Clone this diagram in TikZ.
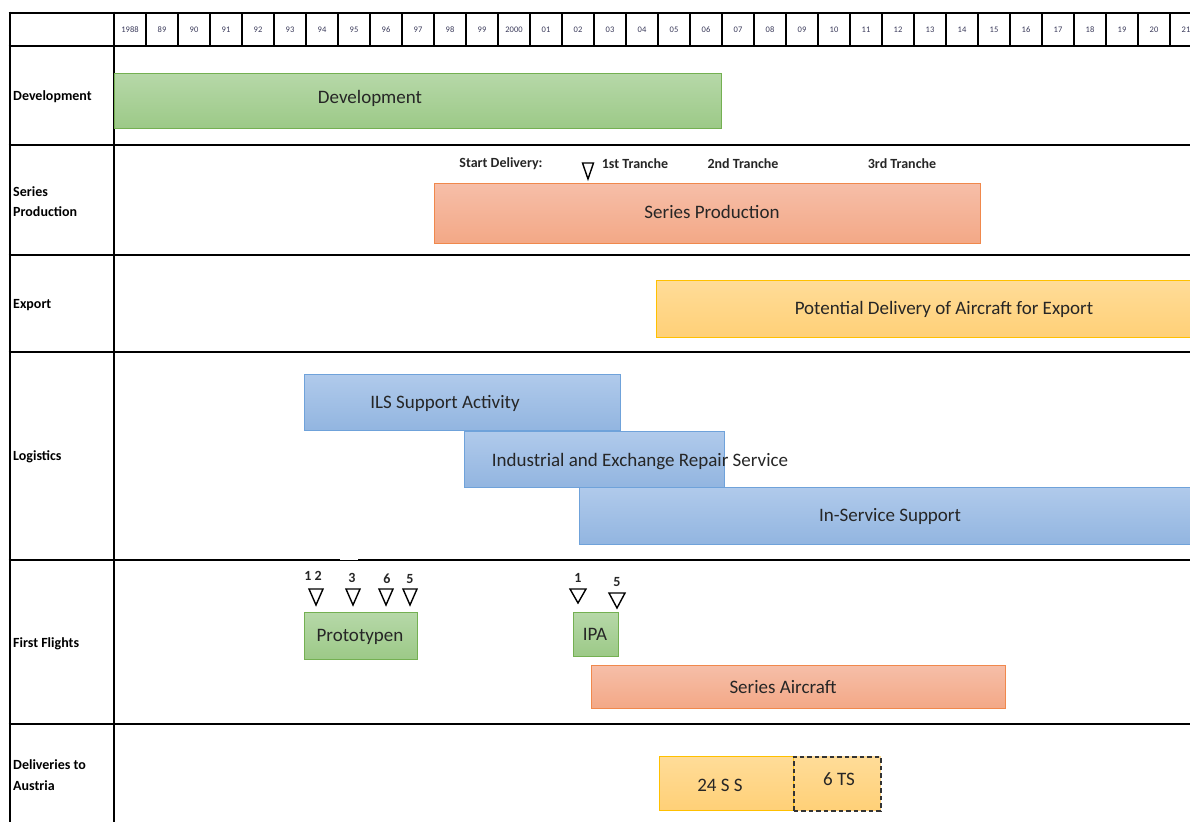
\documentclass[tikz,border=0pt]{standalone}
\usepackage{fontspec}
\setmainfont{Carlito}
\definecolor{txt}{HTML}{262626}
\definecolor{yr}{HTML}{3A3A5A}
\definecolor{grT}{HTML}{B6D8A8}
\definecolor{grB}{HTML}{9CC987}
\definecolor{grD}{HTML}{74B052}
\definecolor{orT}{HTML}{F6BEA8}
\definecolor{orB}{HTML}{F3A886}
\definecolor{orD}{HTML}{F0884C}
\definecolor{ylT}{HTML}{FFDC98}
\definecolor{ylB}{HTML}{FFD077}
\definecolor{ylD}{HTML}{FFC000}
\definecolor{blT}{HTML}{B0CAEB}
\definecolor{blB}{HTML}{92B5E0}
\definecolor{blD}{HTML}{6FA2DA}
\tikzset{
  grid/.style={line width=2.6pt, black},
  bar/.style={anchor=north west, inner sep=0pt, line width=1.2pt},
  gbar/.style={bar, draw=grD, top color=grT, bottom color=grB},
  obar/.style={bar, draw=orD, top color=orT, bottom color=orB},
  ybar/.style={bar, draw=ylD, top color=ylT, bottom color=ylB},
  bbar/.style={bar, draw=blD, top color=blT, bottom color=blB},
  bartext/.style={text=txt, inner sep=0pt, font=\fontsize{19}{21}\selectfont},
  rowlabel/.style={anchor=west, align=left, inner sep=0pt, font=\bfseries\fontsize{14}{20.5}\selectfont},
  note/.style={inner sep=0pt, text=txt, font=\bfseries\fontsize{14}{15}\selectfont},
  yearlabel/.style={inner sep=0pt, text=yr, font=\fontsize{8.5}{10}\selectfont},
  tri/.style={draw=black, fill=white, line width=1.4pt, line join=miter}
}
\newcommand{\mytri}[4]{\draw[tri] ({#1-#3},#2) -- ({#1+#3},#2) -- (#1,{#2+#4}) -- cycle;}
\begin{document}
\begin{tikzpicture}[x=1pt,y=-1pt]
\useasboundingbox (0,0) rectangle (1190,821);
% header years
\foreach \lab [count=\i from 0] in {1988,89,90,91,92,93,94,95,96,97,98,99,2000,01,02,03,04,05,06,07,08,09,10,11,12,13,14,15,16,17,18,19,20,21}{
  \node[yearlabel] (y\i) at ({130+32*\i},29.5) {\lab};
}
\foreach \k in {1,...,33}{
  \draw[grid] ({114+32*\k},13) -- ({114+32*\k},46);
}
% grid lines
\foreach \yy in {13,46,145,255,352,560,724}{
  \draw[grid] (8.7,\yy) -- (1192,\yy);
}
\draw[grid] (10,11.7) -- (10,823);
\draw[grid] (114,11.7) -- (114,823);
\fill[white] (340,558.6) rectangle (358,559.9);
% row labels
\node[rowlabel] (lDev) at (13,97) {Development};
\node[rowlabel] (lSer) at (13,201.5) {Series\\Production};
\node[rowlabel] (lExp) at (13,305) {Export};
\node[rowlabel] (lLog) at (13,457) {Logistics};
\node[rowlabel] (lFF) at (13,644) {First Flights};
\node[rowlabel] (lDel) at (13,775) {Deliveries to\\Austria};
% Development
\node[gbar, minimum width=607pt, minimum height=55pt] (dev) at (114,73) {};
\node[bartext] (devT) at (370,98) {Development};
% Series production
\node[note] (sd) at (501,164) {Start Delivery:};
\mytri{588}{163}{5.5}{16}
\node[note] (t1) at (635,164) {1st Tranche};
\node[note] (t2) at (743,164) {2nd Tranche};
\node[note] (t3) at (902,164) {3rd Tranche};
\node[obar, minimum width=546pt, minimum height=60pt] (ser) at (434,183) {};
\node[bartext] (serT) at (712,212) {Series Production};
% Export
\node[ybar, minimum width=540pt, minimum height=57pt] (exp) at (656,280) {};
\node[bartext] (expT) at (944,309) {Potential Delivery of Aircraft for Export};
% Logistics
\node[bbar, minimum width=316pt, minimum height=56pt] (ils) at (304,374) {};
\node[bartext] (ilsT) at (445,403) {ILS Support Activity};
\node[bbar, minimum width=260pt, minimum height=56pt] (ind) at (464,431) {};
\node[bartext] (indT) at (640,462) {Industrial and Exchange Repair Service};
\node[bbar, minimum width=616pt, minimum height=57pt] (isv) at (579,487) {};
\node[bartext] (isvT) at (890,516) {In-Service Support};
% First flights
\node[note] (n12) at (313,576) {1 2};
\node[note] (n3) at (352,578) {3};
\node[note] (n6) at (387,579) {6};
\node[note] (n5) at (410,579) {5};
\node[note] (m1) at (578,578) {1};
\node[note] (m5) at (617,582) {5};
\mytri{316}{589}{7}{16}
\mytri{353}{589}{7}{16}
\mytri{386}{589}{7}{16}
\mytri{410}{589}{7}{16}
\mytri{578}{589}{8}{14}
\mytri{617}{593}{8}{15}
\node[gbar, minimum width=113pt, minimum height=47pt] (proto) at (304,612) {};
\node[bartext] (protoT) at (360,637) {Prototypen};
\node[gbar, minimum width=45pt, minimum height=44pt] (ipa) at (573,612) {};
\node[bartext] (ipaT) at (595,634) {IPA};
\node[obar, minimum width=414pt, minimum height=43pt] (sa) at (591,665) {};
\node[bartext] (saT) at (783,687) {Series Aircraft};
% Deliveries
\node[ybar, minimum width=134pt, minimum height=54pt] (d24) at (659,756) {};
\node[bartext] (d24T) at (720,785) {24 S S};
\node[bar, top color=ylT, bottom color=ylB, draw=black!80, dash pattern=on 4.5pt off 3pt, line width=1.6pt, minimum width=87pt, minimum height=54pt] (d6) at (793,756) {};
\node[bartext] (d6T) at (839,779) {6 TS};
\end{tikzpicture}
\end{document}
